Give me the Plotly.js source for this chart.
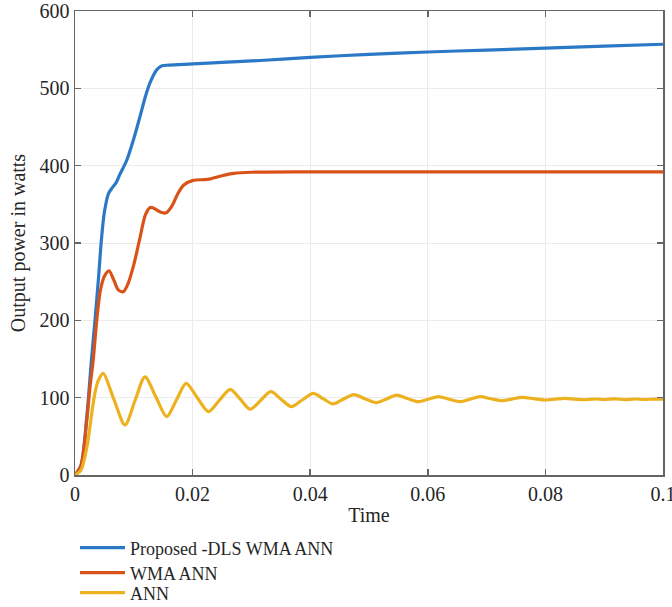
<!DOCTYPE html>
<html>
<head>
<meta charset="utf-8">
<script src="https://cdn.plot.ly/plotly-3.0.1.min.js"></script>
<style>html,body{margin:0;padding:0;background:#fff;}#chart{width:672px;height:607px;}</style>
</head>
<body>
<div id="chart"></div>
<script>
// Proposed -DLS WMA ANN (blue)
var propT = [0,0.001,0.002,0.0028,0.0034,0.004,0.0045,0.005,0.0057,0.0062,0.007,0.00765,0.0088,0.010,0.011,0.012,0.01275,0.0139,0.0147,0.016,0.020,0.025,0.0315,0.040,0.050,0.060,0.070,0.080,0.090,0.100];
var propY = [0,12,75,149,200,255,305,340,364,370,378,389,407,435,462,490,507,524,529,530,531.5,533.5,536,540,544,547,549.5,552,554.5,557];

// WMA ANN (orange)
var wmaT = [0,0.001,0.002,0.0025,0.0031,0.0037,0.0043,0.005,0.0058,0.0066,0.0074,0.0082,0.009,0.010,0.011,0.012,0.0128,0.0134,0.0145,0.0155,0.0165,0.0175,0.0185,0.0201,0.022,0.023,0.025,0.027,0.030,0.040,0.060,0.080,0.100];
var wmaY = [0,12,70,110,149,200,238,257,264,252,239,237,247,272,305,337,346,345,340,339,348,364,375,381,382,383,387,390,391.5,392,392,392,392];

// ANN (yellow)
var annT = [0,0.001,0.002,0.0025,0.003,0.0035,0.004,0.0048,0.0066,0.0085,0.0102,0.0119,0.01375,0.0156,0.01725,0.0189,0.0208,0.0227,0.02455,0.0264,0.0281,0.0298,0.03155,0.0333,0.03505,0.0368,0.03865,0.0405,0.0422,0.0439,0.0456,0.0474,0.0493,0.0512,0.053,0.0547,0.0565,0.0584,0.0601,0.0618,0.0636,0.0655,0.0672,0.0689,0.0707,0.0726,0.0743,0.076,0.078,0.0799,0.0816,0.0833,0.085,0.0867,0.0884,0.0901,0.0918,0.0935,0.0952,0.0969,0.0986,0.1];
var annY = [0,6,35,60,88,110,123,131.5,98,64.7,96,127,101,75.4,97,118.6,100,82,96.4,110.8,98,85,96.3,107.7,98,88.3,97,105.6,98.7,91.8,98,104,98.7,93.5,98.4,103.4,99,94.8,98,101.3,98,94.8,98,101.3,98.6,96,98.2,100.4,98.7,97,98,99,98,97.3,98.3,97.6,98.5,97.5,98.3,97.6,98.2,98];

var seriesNames = ["Proposed -DLS WMA ANN", "WMA ANN", "ANN"];
var xTicks = [0, 0.02, 0.04, 0.06, 0.08, 0.1];
var xTickText = ["0", "0.02", "0.04", "0.06", "0.08", "0.1"];
var yTicks = [0, 100, 200, 300, 400, 500, 600];

var colors = ["#2B79C6", "#D95319", "#EDB120"];
var legendIds = ["legend", "legend2", "legend3"];
var xs = [propT, wmaT, annT], ys = [propY, wmaY, annY];
var traces = xs.map(function (x, i) {
  return {
    x: x, y: ys[i], name: seriesNames[i], type: "scatter", mode: "lines",
    legend: legendIds[i],
    line: {color: colors[i], width: 3.2, shape: "spline", smoothing: 0.8}
  };
});

var font = "Liberation Serif, Times New Roman, serif";
function leg(y) {
  return {
    x: 0, xanchor: "left", y: y, yanchor: "middle",
    orientation: "v", bgcolor: "rgba(0,0,0,0)",
    font: {family: font, size: 18, color: "#262626"},
    itemwidth: 45
  };
}
var layout = {
  width: 672, height: 607,
  margin: {l: 75, r: 9, t: 11, b: 132, autoexpand: false},
  paper_bgcolor: "#fff", plot_bgcolor: "#fff",
  font: {family: font, size: 20, color: "#262626"},
  showlegend: true,
  legend: leg(-0.1573),
  legend2: leg(-0.2112),
  legend3: leg(-0.2543),
  xaxis: {
    range: [0, 0.1], tickvals: xTicks, ticktext: xTickText,
    ticklabeloverflow: "allow",
    showgrid: true, gridcolor: "#ebebeb", gridwidth: 1,
    zeroline: false, showline: true, linecolor: "#666", linewidth: 1.5, mirror: "ticks",
    ticks: "inside", ticklen: 6, tickcolor: "#666", tickwidth: 1.5,
    tickfont: {family: font, size: 20, color: "#262626"},
    title: {text: "Time", font: {family: font, size: 20, color: "#262626"}, standoff: 4}
  },
  yaxis: {
    range: [0, 600], tickvals: yTicks,
    showgrid: true, gridcolor: "#ebebeb", gridwidth: 1,
    zeroline: false, showline: true, linecolor: "#666", linewidth: 1.5, mirror: "ticks",
    ticks: "inside", ticklen: 6, tickcolor: "#666", tickwidth: 1.5,
    tickfont: {family: font, size: 20, color: "#262626"},
    title: {text: "Output power in watts", font: {family: font, size: 20, color: "#262626"}, standoff: 8}
  }
};

Plotly.newPlot("chart", traces, layout, {displayModeBar: false, staticPlot: true});
</script>
</body>
</html>
